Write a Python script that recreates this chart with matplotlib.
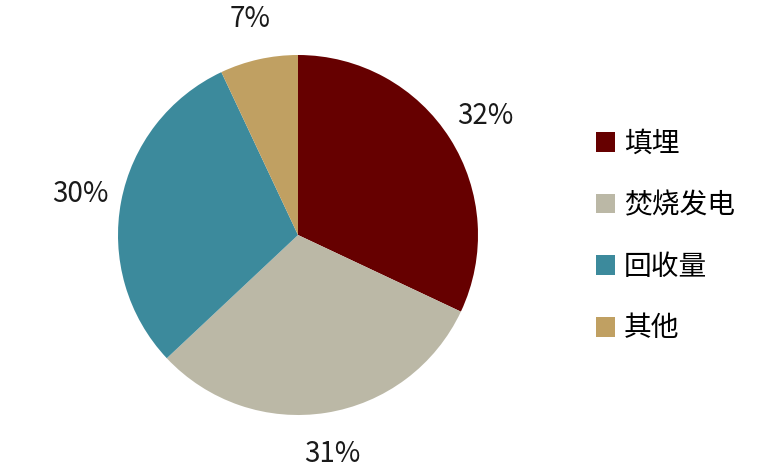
import matplotlib
matplotlib.use('Agg')
import matplotlib.pyplot as plt

plt.rcParams['font.family'] = ['Noto Sans CJK SC', 'DejaVu Sans']

# data
categories = ['填埋', '焚烧发电', '回收量', '其他']
shares = [32, 31, 30, 7]
colors = ['#660000', '#BBB8A6', '#3C8A9C', '#C0A062']

W, H = 760, 475
fig = plt.figure(figsize=(W / 100, H / 100), dpi=100, facecolor='white')

# pie axes: centre (298, 235) px, radius 180 px
ax = fig.add_axes([118 / W, 60 / H, 360 / W, 360 / H])
wedges, texts, autotexts = ax.pie(
    shares, colors=colors, startangle=90, counterclock=False,
    radius=1, autopct='%d%%', pctdistance=1.23,
    textprops=dict(fontsize=20, color='#1a1a1a'),
    wedgeprops=dict(linewidth=0))
ax.set_xlim(-1, 1)
ax.set_ylim(-1, 1)
ax.set_aspect('equal')
ax.axis('off')

leg = fig.legend(wedges, categories, loc='center left',
                 bbox_to_anchor=(596 / W, 1 - 236 / H),
                 frameon=False, fontsize=20,
                 handlelength=0.7, handleheight=0.7,
                 handletextpad=0.3, labelspacing=1.14,
                 borderpad=0, borderaxespad=0)

fig.savefig('out.png', dpi=100, facecolor='white')
